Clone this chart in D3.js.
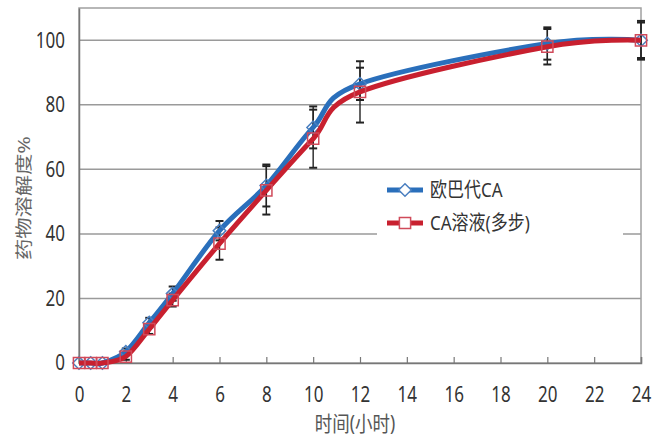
<!DOCTYPE html>
<html>
<head>
<meta charset="utf-8">
<script src="https://cdn.jsdelivr.net/npm/d3@7"></script>
<style>
  body { margin: 0; background: #fff; }
  text { font-family: "Noto Sans", "Noto Sans CJK SC", sans-serif; }
</style>
</head>
<body>
<div id="container"><svg></svg></div>
<script>
let width = 662;
let height = 439;
let margin = {top: 8, right: 21, bottom: 76, left: 79};

// 数据
let hours = [0, 0.5, 1, 2, 3, 4, 6, 8, 10, 12, 20, 24];
let seriesNames = ['欧巴代CA', 'CA溶液(多步)'];
let blueValues = [0, 0, 0, 3.5, 12.5, 21.5, 41, 55, 73, 86.5, 99, 100];
let blueErrors = [0, 0, 0, 1, 1.5, 2.2, 3, 6.5, 6.5, 5, 5, 6];
let redValues = [0, 0, 0, 2, 10.5, 19.5, 37, 53.5, 69.5, 84, 98, 100];
let redErrors = [0, 0, 0, 1, 1.5, 2, 5, 7.5, 9, 9.5, 5.5, 5.5];
let xTicks = [0, 2, 4, 6, 8, 10, 12, 14, 16, 18, 20, 22, 24];
let yTicks = [0, 20, 40, 60, 80, 100];

function draw_graph() {
    let svg = d3.select('#container').select('svg')
        .attr('width', width)
        .attr('height', height);

    let x = d3.scaleLinear().domain([0, 24]).range([margin.left, width - margin.right]);
    let y = d3.scaleLinear().domain([0, 110]).range([height - margin.bottom, margin.top]);

    // 网格线
    svg.append('g')
        .selectAll('line')
        .data(yTicks.filter(d => d > 0))
        .join('line')
        .attr('x1', x(0)).attr('x2', x(24))
        .attr('y1', d => y(d)).attr('y2', d => y(d))
        .attr('stroke', '#9a9a9a')
        .attr('stroke-width', 1.5);

    // 边框
    svg.append('rect')
        .attr('x', x(0)).attr('y', y(110))
        .attr('width', x(24) - x(0)).attr('height', y(0) - y(110))
        .attr('fill', 'none')
        .attr('stroke', '#a0a0a0')
        .attr('stroke-width', 1.5);

    // x轴
    let xAxis = svg.append('g')
        .attr('transform', `translate(0,${y(0)})`)
        .call(d3.axisBottom(x).tickValues(xTicks).tickSize(-6).tickPadding(19));
    xAxis.select('.domain').attr('stroke', '#777').attr('stroke-width', 1.5);
    xAxis.selectAll('.tick line').attr('stroke', '#777').attr('stroke-width', 1.2);
    xAxis.selectAll('.tick text')
        .attr('font-size', 17)
        .attr('fill', '#333')
        .attr('transform', 'scale(1,1.25)');

    // y轴
    let yAxis = svg.append('g')
        .attr('transform', `translate(${x(0)},0)`)
        .call(d3.axisLeft(y).tickValues(yTicks).tickSize(0).tickPadding(14));
    yAxis.select('.domain').attr('stroke', '#777').attr('stroke-width', 1.5);
    yAxis.selectAll('.tick text')
        .attr('font-size', 17)
        .attr('fill', '#333')
        .attr('transform', 'scale(1,1.25)');

    // 轴标题
    svg.append('text')
        .attr('transform', `translate(355,431) scale(1,1.2)`)
        .attr('text-anchor', 'middle')
        .attr('font-size', 17.5)
        .attr('fill', '#555')
        .text('时间(小时)');

    svg.append('text')
        .attr('transform', `translate(30,198) scale(1,1.25) rotate(-90)`)
        .attr('text-anchor', 'middle')
        .attr('font-size', 17)
        .attr('fill', '#666')
        .text('药物溶解度%');

    // 图例背景
    svg.append('rect')
        .attr('x', 377).attr('y', 176)
        .attr('width', 246).attr('height', 64)
        .attr('fill', '#fff');

    let series = [
        {name: seriesNames[0], values: blueValues, errors: blueErrors, color: '#2a6fbb', marker: 'diamond'},
        {name: seriesNames[1], values: redValues, errors: redErrors, color: '#c8202f', marker: 'square'}
    ];

    let line = d3.line()
        .x(d => x(d[0]))
        .y(d => y(d[1]))
        .curve(d3.curveCatmullRom.alpha(0));

    let diamond = d3.symbol().type(d3.symbolDiamond2).size(100);
    let square = d3.symbol().type(d3.symbolSquare2).size(160);

    // 误差线
    let errG = svg.append('g').attr('stroke', '#222').attr('stroke-width', 1.4);
    series.forEach(s => {
        hours.forEach((h, i) => {
            if (s.errors[i] <= 0) return;
            let lo = y(s.values[i] - s.errors[i]);
            let hi = y(s.values[i] + s.errors[i]);
            errG.append('line').attr('x1', x(h)).attr('x2', x(h)).attr('y1', lo).attr('y2', hi);
            errG.append('line').attr('x1', x(h) - 4).attr('x2', x(h) + 4).attr('y1', lo).attr('y2', lo).attr('stroke-width', 2);
            errG.append('line').attr('x1', x(h) - 4).attr('x2', x(h) + 4).attr('y1', hi).attr('y2', hi).attr('stroke-width', 2);
        });
    });

    series.forEach(s => {
        let pts = hours.map((h, i) => [h, s.values[i]]);
        svg.append('path')
            .datum(pts)
            .attr('fill', 'none')
            .attr('stroke', s.color)
            .attr('stroke-width', 5)
            .attr('stroke-linejoin', 'round')
            .attr('d', line);

        svg.append('g')
            .selectAll('path')
            .data(pts)
            .join('path')
            .attr('transform', d => `translate(${x(d[0])},${y(d[1])})`)
            .attr('d', s.marker == 'diamond' ? diamond : square)
            .attr('fill', 'none')
            .attr('stroke', s.marker == 'diamond' ? '#4a7fc0' : '#d04a5a')
            .attr('stroke-width', 1.5);
    });

    // 图例
    let legend = svg.append('g');
    series.forEach((s, i) => {
        let ly = 190 + i * 33;
        legend.append('line')
            .attr('x1', 387).attr('x2', 423)
            .attr('y1', ly).attr('y2', ly)
            .attr('stroke', s.color)
            .attr('stroke-width', 5);
        legend.append('path')
            .attr('transform', `translate(405,${ly})`)
            .attr('d', s.marker == 'diamond' ? diamond : square)
            .attr('fill', '#fff')
            .attr('stroke', s.marker == 'diamond' ? '#4a7fc0' : '#d04a5a')
            .attr('stroke-width', 1.5);
        legend.append('text')
            .attr('transform', `translate(430,${ly}) scale(1,1.2)`)
            .attr('dy', '0.36em')
            .attr('font-size', 17)
            .attr('fill', '#333')
            .text(s.name);
    });
}

draw_graph();
</script>
</body>
</html>
